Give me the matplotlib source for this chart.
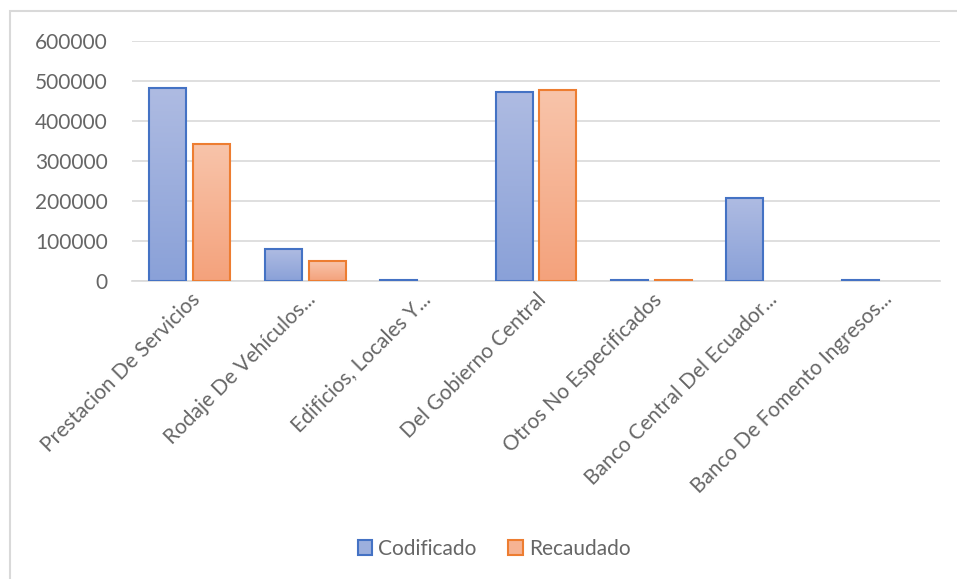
import matplotlib
matplotlib.use("Agg")
import matplotlib.pyplot as plt
import matplotlib.patches as patches
import numpy as np
from matplotlib.colors import LinearSegmentedColormap

plt.rcParams["font.family"] = ["Lato", "DejaVu Sans"]

categories = [
    "Prestacion De Servicios",
    "Rodaje De Vehículos...",
    "Edificios, Locales Y...",
    "Del Gobierno Central",
    "Otros No Especificados",
    "Banco Central Del Ecuador...",
    "Banco De Fomento Ingresos...",
]
codificado = [482000, 79000, 2000, 473000, 2500, 207000, 2000]
recaudado = [343000, 49000, 0, 477000, 1500, 0, 0]
yticks = [0, 100000, 200000, 300000, 400000, 500000, 600000]

text_color = "#666666"
grid_color = "#d9d9d9"

fig = plt.figure(figsize=(9.57, 5.79), dpi=100)
ax = fig.add_axes([132 / 957, 1 - 281 / 579, (940 - 132) / 957, 240 / 579])

x = np.arange(len(categories))
width = 0.32
off = 0.19

series = [
    (codificado, -off, "Codificado", "#4472c4", ("#aebbe2", "#8aa1d8")),
    (recaudado, off, "Recaudado", "#ed7d31", ("#f8c4aa", "#f4a27c")),
]

for vals, dx, label, edge, (top_c, bot_c) in series:
    bars = ax.bar(x + dx, vals, width, facecolor=bot_c, edgecolor=edge,
                  linewidth=1.5, label=label, zorder=3)
    cmap = LinearSegmentedColormap.from_list(label, [bot_c, top_c])
    grad = np.linspace(0, 1, 100).reshape(-1, 1)
    for rect in bars:
        h = rect.get_height()
        if h <= 0:
            rect.set_visible(False)
            continue
        x0 = rect.get_x()
        im = ax.imshow(grad, cmap=cmap, origin="lower", aspect="auto",
                       extent=(x0, x0 + rect.get_width(), 0, h), zorder=3)
        im.set_clip_path(rect)
        rect.set_facecolor("none")
        rect.set_zorder(4)

ax.set_xlim(-0.5, len(categories) - 0.5)
ax.set_ylim(0, 600000)
ax.set_yticks(yticks)
ax.set_yticklabels([str(v) for v in yticks])
ax.set_xticks(x)
ax.set_xticklabels(categories, rotation=45, ha="right", rotation_mode="anchor")
ax.tick_params(axis="both", length=0, labelsize=15, colors=text_color)
ax.tick_params(axis="y", pad=17.5)
ax.tick_params(axis="x", pad=6)
ax.grid(True, axis="y", color=grid_color, linewidth=1.2, zorder=0)
for side in ["top", "right", "left"]:
    ax.spines[side].set_visible(False)
ax.spines["bottom"].set_color(grid_color)
ax.spines["bottom"].set_linewidth(1.2)

handles = [
    patches.Patch(facecolor="#9cafdd", edgecolor="#4472c4", linewidth=1.5),
    patches.Patch(facecolor="#f6b393", edgecolor="#ed7d31", linewidth=1.5),
]
fig.legend(handles, ["Codificado", "Recaudado"], loc="center",
           bbox_to_anchor=(494 / 957, 1 - 549 / 579), ncol=2, frameon=False,
           fontsize=15, handlelength=0.7, handleheight=0.7,
           handletextpad=0.3, columnspacing=1.5, labelcolor=text_color)

# chart area border (only left and top edges fall inside the image)
fig.patches.append(patches.Rectangle((10 / 957, -0.1), 1.2, 1.1 - 11 / 579,
                                     transform=fig.transFigure, fill=False,
                                     edgecolor=grid_color, linewidth=1.5))

fig.savefig("out.png", dpi=100)
